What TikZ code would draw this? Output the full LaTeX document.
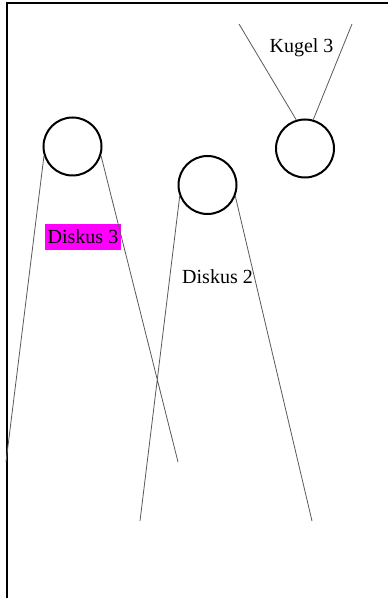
\documentclass[tikz,border=0pt]{standalone}
\usepackage{fontspec}
\setmainfont{Liberation Serif}
\usetikzlibrary{positioning}
\definecolor{diskmag}{RGB}{255,0,255}

\begin{document}
\begin{tikzpicture}[
  x=0.5pt, y=-0.5pt,
  disk/.style={draw,circle,line width=1pt,minimum size=29pt,inner sep=0pt},
  ray/.style={draw=black!65,line width=0.4pt},
  lbl/.style={inner xsep=1.5pt,inner ysep=1pt,text height=9pt,text depth=2pt,font=\fontsize{10}{12}\selectfont}
    ]
\useasboundingbox (0,0) rectangle (388,598);
\draw[line width=1.2pt] (7,598) -- (7,3) -- (388,3);

\node[disk] (d3) at (72.5,146.5) {};
\node[disk] (d2) at (207.5,185) {};
\node[disk] (k3) at (305,148.5) {};

\node[lbl,fill=diskmag] (ld3) at (83,237) {Diskus 3};
\node[lbl] (ld2) at (217.5,276) {Diskus 2};
\node[lbl] (lk3) at (301.5,46) {Kugel 3};

\coordinate (d3a) at (6,462);
\coordinate (d3b) at (178,462);
\coordinate (d2a) at (140,521);
\coordinate (d2b) at (312,521);
\coordinate (k3a) at (239,24);
\coordinate (k3b) at (352,24);

\path[ray] (d3.198) -- (d3a)
(d3.342) -- (d3b)
(d2.202) -- (d2a)
(d2.338) -- (d2b)
(k3.107) -- (k3a)
(k3.74) -- (k3b);
\end{tikzpicture}
\end{document}
